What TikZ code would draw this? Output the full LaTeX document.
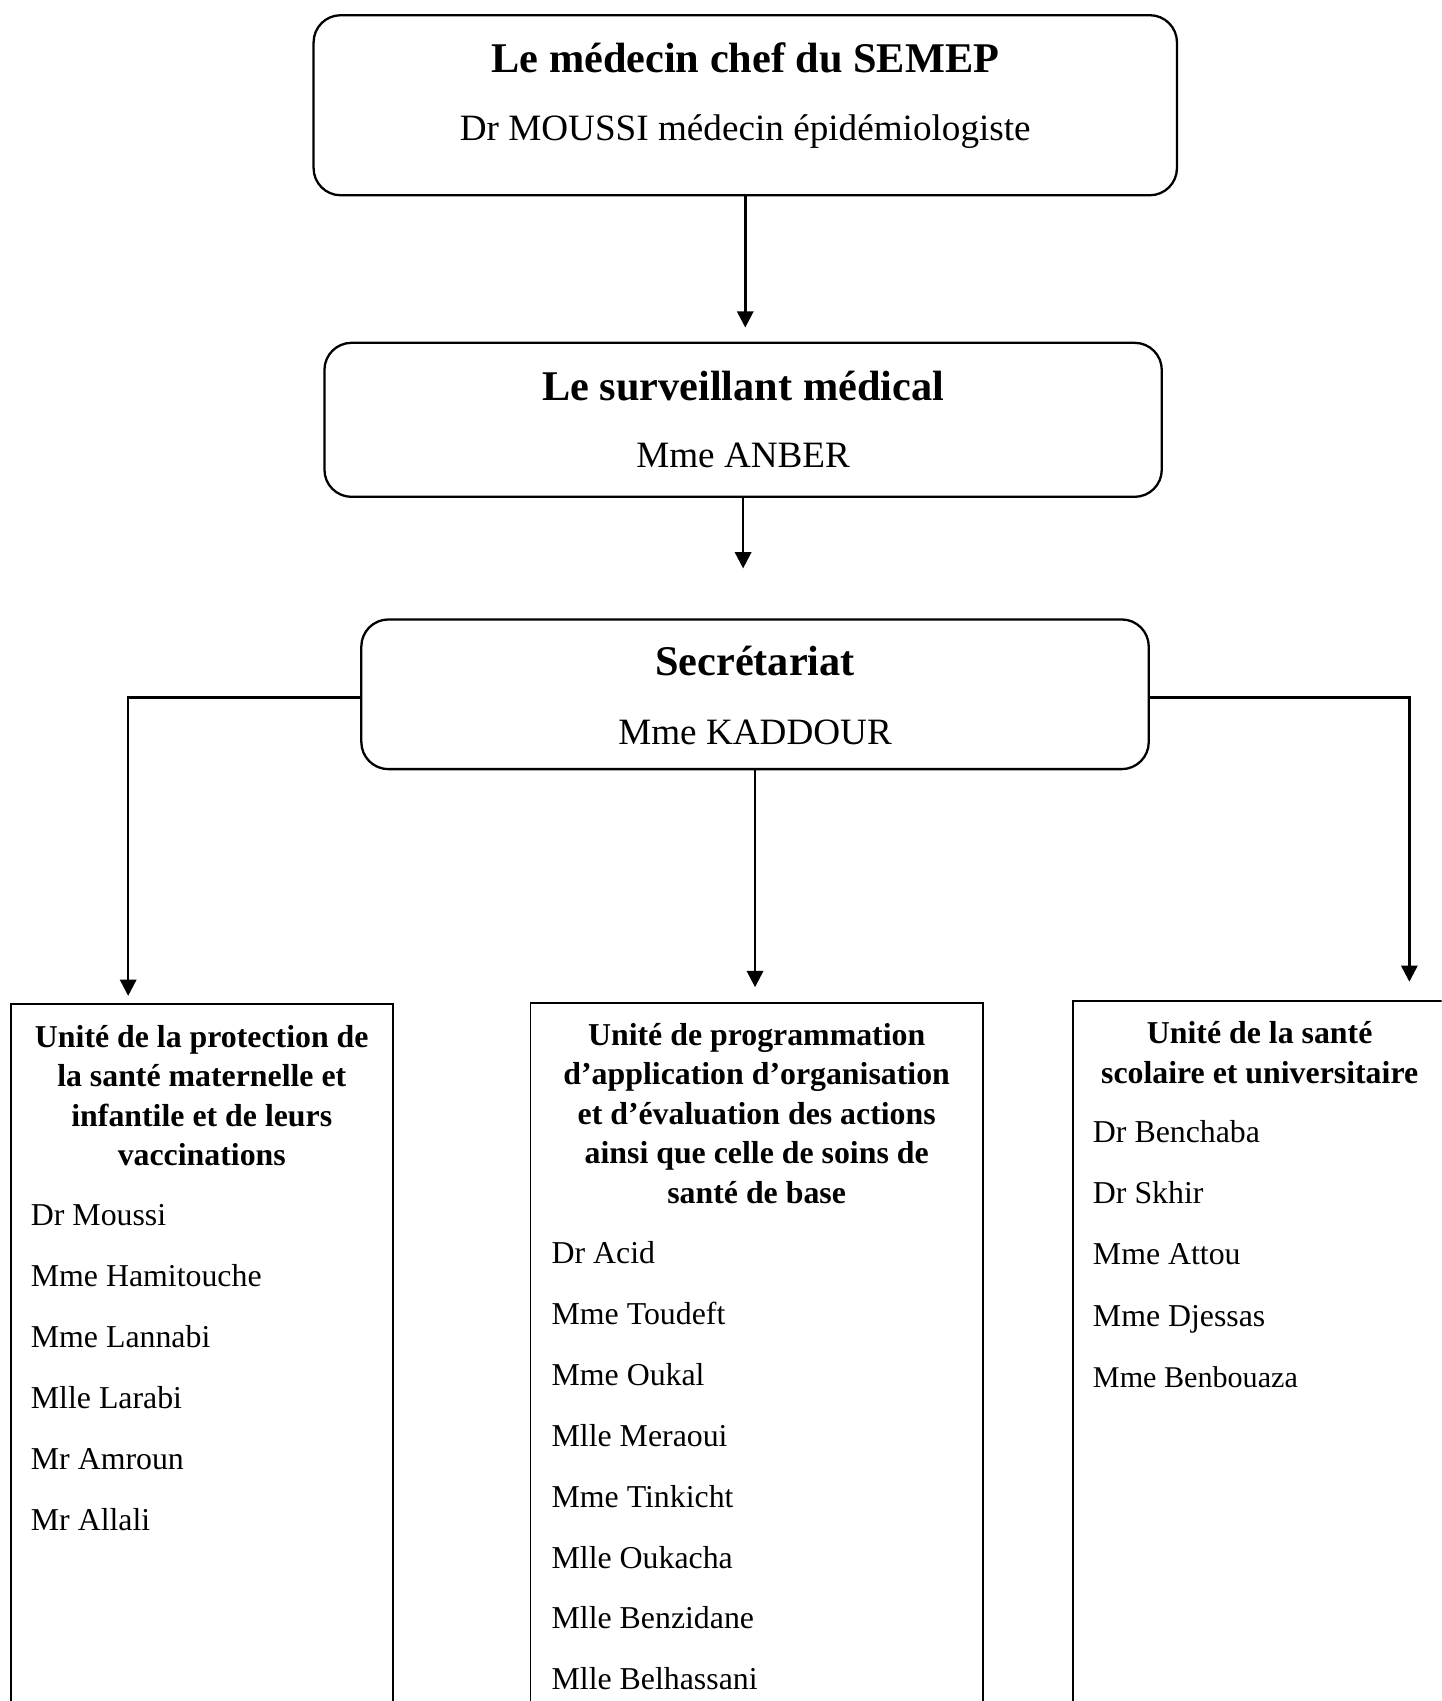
\documentclass[tikz,border=0pt]{standalone}
\usepackage{fontspec}
\setmainfont{Liberation Serif}
\usetikzlibrary{arrows.meta,calc,positioning}
\tikzset{
	organigramme/.style={
		x=0.02cm, y=-0.02cm,
		fleche/.style={draw, line width=1.3pt, -{Triangle[length=0.3cm,width=0.3cm]}},
	},
	cadre/.style={draw, rounded corners=0.5cm, line width=1.2pt, inner sep=0pt},
	unite/.style={draw, anchor=north, inner sep=0pt, line width=1pt, minimum height=14cm},
	titre/.style={anchor=base, inner sep=0pt, font=\fontsize{22.2}{26}\selectfont\bfseries},
	sous titre/.style={anchor=base, inner sep=0pt, font=\fontsize{19.5}{23}\selectfont},
	entete/.style={anchor=base, inner sep=0pt, align=center, font=\fontsize{16.7}{20.7}\selectfont\bfseries},
	membre/.style={anchor=base west, inner sep=0pt, font=\fontsize{16.7}{20}\selectfont},
}

\begin{document}
\begin{tikzpicture}[organigramme]
	\useasboundingbox (0,0) rectangle (1329,1568);
	\clip (0,0) rectangle (1329,1568);
	% les trois cadres du haut
	\node[cadre, minimum width=15.92cm, minimum height=3.32cm] (chef) at (687,97) {};
	\node[cadre, minimum width=15.44cm, minimum height=2.84cm] (surv) at (685,387) {};
	\node[cadre, minimum width=14.52cm, minimum height=2.76cm] (secr) at (696,640) {};
	\node[titre] (chef_t) at ($(chef.north)+(0,54)$) {Le médecin chef du SEMEP};
	\node[sous titre] (chef_s) at ($(chef.north)+(0,117)$) {Dr MOUSSI médecin épidémiologiste};
	\node[titre] (surv_t) at ($(surv.north)+(0,54)$) {Le surveillant médical};
	\node[sous titre] (surv_s) at ($(surv.north)+(0,116)$) {Mme ANBER};
	\node[titre] (secr_t) at ($(secr.north)+(0,53)$) {Secrétariat};
	\node[sous titre] (secr_s) at ($(secr.north)+(0,116)$) {Mme KADDOUR};
	% les unites (base = derniere ligne de l'entete)
	\node[unite, minimum width=7.04cm] (unitA) at (186,925) {};
	\node[unite, minimum width=8.34cm] (unitB) at (697.5,924) {};
	\node[unite, minimum width=8cm] (unitC) at (1189,922) {};
	\node[entete] (unitA_t) at ($(unitA.north)+(0,149.5)$)
		{Unité de la protection de\\la santé maternelle et\\infantile et de leurs\\vaccinations};
	\node[entete] (unitB_t) at ($(unitB.north)+(0,185)$)
		{Unité de programmation\\d’application d’organisation\\et d’évaluation des actions\\ainsi que celle de soins de\\santé de base};
	\node[entete] (unitC_t) at ($(unitC.north west)+(173,76.5)$)
		{Unité de la santé\\scolaire et universitaire};
	\foreach \nom [count=\i from 0] in {Dr Moussi, Mme Hamitouche, Mme Lannabi, Mlle Larabi, Mr Amroun, Mr Allali}
		\node[membre] (nomA\i) at ($(unitA.north west)+(19,205+56.2*\i)$) {\nom};
	\foreach \nom [count=\i from 0] in {Dr Acid, Mme Toudeft, Mme Oukal, Mlle Meraoui, Mme Tinkicht, Mlle Oukacha, Mlle Benzidane, Mlle Belhassani}
		\node[membre] (nomB\i) at ($(unitB.north west)+(20,241+56.1*\i)$) {\nom};
	\foreach \nom [count=\i from 0] in {Dr Benchaba, Dr Skhir, Mme Attou, Mme Djessas}
		\node[membre] (nomC\i) at ($(unitC.north west)+(19,131+56.5*\i)$) {\nom};
	\node[membre, font=\fontsize{15.8}{19}\selectfont] (nomC4) at ($(unitC.north west)+(19,131+56.5*4)$) {Mme Benbouaza};
	% les fleches
	\draw[fleche] (chef.south) -- ($(chef.south |- surv.north)+(0,-13)$);
	\draw[fleche] (surv.south) -- ($(surv.south |- secr.north)+(0,-46)$);
	\draw[fleche] ($(secr.west)+(0,3)$) -| ($(unitA.north west)+(109,-7)$);
	\draw[fleche] (secr.south) -- ($(secr.south |- unitB.north)+(0,-14)$);
	\draw[fleche] ($(secr.east)+(0,3)$) -| ($(unitC.north west)+(311,-17)$);
\end{tikzpicture}
\end{document}
